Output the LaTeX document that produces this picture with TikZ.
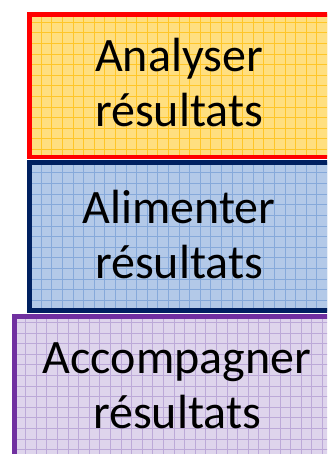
\documentclass[tikz,border=0pt]{standalone}
\usepackage{fontspec}
\setmainfont{Carlito}
\definecolor{yfill}{HTML}{FFDF80}
\definecolor{ygrid}{HTML}{FFC629}
\definecolor{bfill}{HTML}{B3C9E8}
\definecolor{bgrid}{HTML}{86A9DA}
\definecolor{bline}{HTML}{002060}
\definecolor{pfill}{HTML}{DED4EC}
\definecolor{pgrid}{HTML}{BCA9D8}
\definecolor{pline}{HTML}{7030A0}
\begin{document}
\begin{tikzpicture}[x=1pt,y=-1pt,
  gbox/.style n args={3}{draw=#3, fill=#1, line width=4.5pt, rectangle, inner sep=0pt, anchor=north west,
    path picture={\draw[#2, line width=0.8pt, step=10.6pt]
      ([xshift=-20pt,yshift=-20pt]path picture bounding box.south west) grid ([xshift=20pt,yshift=20pt]path picture bounding box.north east);}},
  lbl/.style={font=\fontsize{48pt}{55pt}\selectfont, anchor=base, inner sep=0pt}]
\useasboundingbox (0,0) rectangle (327,454);
\clip (0,0) rectangle (327,454);
\node[gbox={yfill}{ygrid}{red}, minimum width=320pt, minimum height=142.5pt] (analyser) at (27.25,12.25) {};
\node[gbox={bfill}{bgrid}{bline}, minimum width=320pt, minimum height=148pt] (alimenter) at (27.25,160.25) {};
\node[gbox={pfill}{pgrid}{pline}, minimum width=340pt, minimum height=160pt] (accompagner) at (12.25,314.25) {};
\node[lbl] (t1a) at (179,72) {Analyser};
\node[lbl] (t1b) at (179,127) {résultats};
\node[lbl] (t2a) at (179,223) {Alimenter};
\node[lbl] (t2b) at (179,278) {résultats};
\node[lbl] (t3a) at (177,373) {Accompagner};
\node[lbl] (t3b) at (177,428) {résultats};
\end{tikzpicture}
\end{document}
